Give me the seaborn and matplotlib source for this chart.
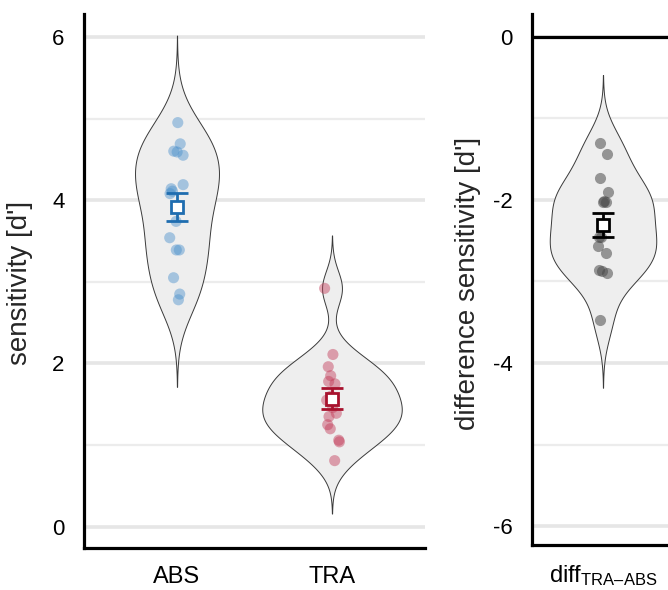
import numpy as np
import pandas as pd
import matplotlib
matplotlib.use("Agg")
import matplotlib.pyplot as plt
from matplotlib.ticker import MultipleLocator
import seaborn as sns

# ---------------- data ----------------
conditions = ["ABS", "TRA"]
abs_values = [4.95, 4.69, 4.60, 4.59, 4.55, 4.19, 4.14, 4.11, 4.08, 3.74,
              3.54, 3.39, 3.39, 3.05, 2.85, 2.78]
tra_values = [2.92, 2.11, 1.96, 1.85, 1.78, 1.75, 1.60, 1.55, 1.46, 1.39,
              1.35, 1.25, 1.20, 1.06, 1.04, 0.81]
diff_label = "diff"
diff_values = [-1.30, -1.44, -1.73, -1.90, -2.02, -2.01, -2.03, -2.29, -2.46,
               -2.46, -2.56, -2.65, -2.87, -2.86, -2.90, -3.47]
left_ticks = [0, 2, 4, 6]
right_ticks = [0, -2, -4, -6]

cond_colors = {"ABS": "#1F6DB0", "TRA": "#A8122E"}
point_colors = {"ABS": "#4A90CC", "TRA": "#C23A57"}
diff_color = "#000000"

# ---------------- style ----------------
sns.set_theme(style="white")
plt.rcParams["font.family"] = ["Liberation Sans", "DejaVu Sans"]
plt.rcParams["mathtext.fontset"] = "custom"
plt.rcParams["mathtext.rm"] = "Liberation Sans"
plt.rcParams["mathtext.it"] = "Liberation Sans"
plt.rcParams["axes.unicode_minus"] = False

df = pd.DataFrame({
    "cond": ["ABS"] * len(abs_values) + ["TRA"] * len(tra_values),
    "value": abs_values + tra_values,
})
df_diff = pd.DataFrame({"cond": [diff_label] * len(diff_values), "value": diff_values})


def nrd0(kde):
    d = np.asarray(kde.dataset).ravel()
    sd = np.std(d, ddof=1)
    q75, q25 = np.percentile(d, [75, 25])
    lo = min(sd, (q75 - q25) / 1.34)
    h = 0.9 * lo * len(d) ** (-0.2)
    return h / sd


W, H = 668, 590
fig = plt.figure(figsize=(W / 100, H / 100), dpi=100)
ax1 = fig.add_axes([84 / W, 42 / H, (425 - 84) / W, (576 - 42) / H])
ax2 = fig.add_axes([532 / W, 45 / H, 142 / W, (576 - 45) / H])

violin_kw = dict(inner=None, cut=3, bw_method=nrd0, density_norm="area",
                 width=0.9, color="#EEEEEE", linecolor="#3A3A3A",
                 linewidth=0.7, gridsize=400, saturation=1)

# ---------------- left panel ----------------
sns.violinplot(data=df, x="cond", y="value", order=conditions, ax=ax1, **violin_kw)
np.random.seed(3)
sns.stripplot(data=df, x="cond", y="value", order=conditions, hue="cond",
              palette=point_colors, jitter=0.05, size=8, alpha=0.45,
              linewidth=0, ax=ax1, legend=False)
for i, c in enumerate(conditions):
    v = np.array(df.loc[df.cond == c, "value"])
    m = v.mean()
    se = v.std(ddof=1) / np.sqrt(len(v))
    ax1.errorbar(i, m, yerr=se, fmt="s", mfc="white", mec=cond_colors[c],
                 mew=2, ms=8, ecolor=cond_colors[c], elinewidth=2,
                 capsize=8, capthick=2, zorder=10)

ax1.set_xlim(-0.6, 1.6)
ax1.set_ylim(-0.26, 6.28)
ax1.set_yticks(left_ticks)
ax1.yaxis.set_minor_locator(MultipleLocator(1))
ax1.set_xlabel("")
ax1.set_ylabel("sensitivity [d']", fontsize=20)
ax1.yaxis.set_label_coords(-0.15, (H - 283 - 42) / (576 - 42))

# ---------------- right panel ----------------
sns.violinplot(data=df_diff, x="cond", y="value", ax=ax2, **violin_kw)
np.random.seed(5)
sns.stripplot(data=df_diff, x="cond", y="value", color="#4A4A4A",
              jitter=0.05, size=8, alpha=0.55, linewidth=0, ax=ax2)
dv = np.array(diff_values)
dm = dv.mean()
dse = dv.std(ddof=1) / np.sqrt(len(dv))
ax2.errorbar(0, dm, yerr=dse, fmt="s", mfc="white", mec=diff_color, mew=2,
             ms=8, ecolor=diff_color, elinewidth=2, capsize=8, capthick=2,
             zorder=10)
ax2.axhline(0, color="black", lw=2.3, zorder=5)
ax2.set_xlim(-0.6, 0.6)
ax2.set_ylim(-6.233, 0.282)
ax2.set_yticks(right_ticks)
ax2.yaxis.set_minor_locator(MultipleLocator(1))
ax2.set_xticks([0])
ax2.set_xticklabels([r"diff$_{\mathregular{TRA–ABS}}$"])
ax2.set_xlabel("")
ax2.set_ylabel("difference sensitivity [d']", fontsize=20)
ax2.yaxis.set_label_coords(-0.36, (H - 283 - 45) / (576 - 45))

for ax in (ax1, ax2):
    ax.grid(which="major", axis="y", color="#E6E6E6", lw=2.6, zorder=0)
    ax.grid(which="minor", axis="y", color="#ECECEC", lw=1.6, zorder=0)
    ax.grid(which="major", axis="x", visible=False)
    ax.set_axisbelow(True)
    for s in ("top", "right"):
        ax.spines[s].set_visible(False)
    for s in ("left", "bottom"):
        ax.spines[s].set_visible(True)
        ax.spines[s].set_color("black")
        ax.spines[s].set_linewidth(2.3)
    ax.tick_params(axis="y", which="both", length=0, labelsize=16, pad=14,
                   colors="black")
    ax.tick_params(axis="x", which="both", length=0, labelsize=17, pad=13,
                   colors="black")
    ax.set_facecolor("white")

fig.savefig("out.png", dpi=100, facecolor="white")
